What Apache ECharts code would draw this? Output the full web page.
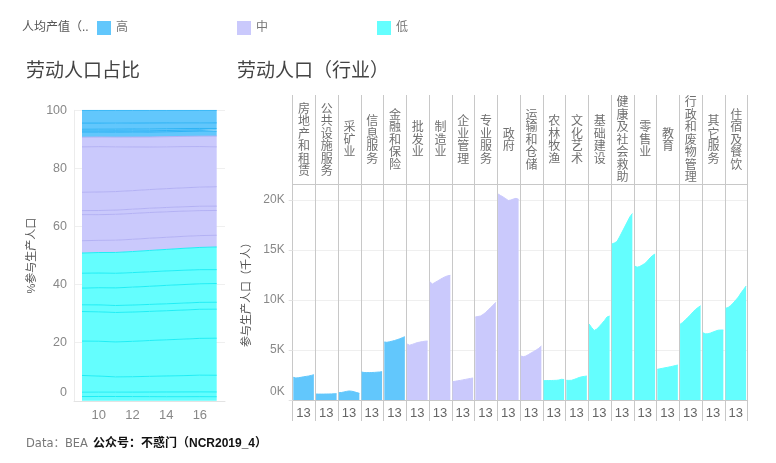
<!DOCTYPE html>
<html><head><meta charset="utf-8">
<script src="https://cdn.jsdelivr.net/npm/echarts@6/dist/echarts.min.js"></script>
<style>html,body{margin:0;padding:0;background:#fff}#c{width:776px;height:463px}</style>
</head><body><div id="c"></div>
<script>
// ---------- data (thousands of people) ----------
const years = ['2009','2010','2011','2012','2013','2014','2015','2016','2017'];
const groupNames = ['高','中','低'];
// right-panel order
const industries = ['房地产和租赁','公共设施服务','采矿业','信息服务','金融和保险',
  '批发业','制造业','企业管理','专业服务','政府','运输和仓储',
  '农林牧渔','文化艺术','基础建设','健康及社会救助','零售业','教育','行政和废物管理','其它服务','住宿及餐饮'];
const industryGroup = ['高','高','高','高','高','中','中','中','中','中','中','低','低','低','低','低','低','低','低','低'];

const realEstate     = [2270,2200,2230,2270,2320,2360,2400,2460,2530];
const utilities      = [600,590,590,590,600,600,610,620,630];
const mining         = [730,750,800,860,900,880,820,740,670];
const information    = [2800,2750,2740,2740,2750,2760,2780,2800,2830];
const finance        = [5800,5770,5820,5880,5950,6030,6120,6230,6330];
const wholesale      = [5600,5480,5560,5650,5740,5790,5840,5880,5900];
const manufacturing  = [11830,11600,11750,11900,12050,12200,12330,12420,12470];
const management     = [1830,1870,1920,1960,2010,2060,2110,2160,2200];
const professional   = [8300,8350,8400,8550,8750,9000,9250,9500,9770];
const government     = [20600,20450,20300,20130,19950,20000,20100,20170,20070];
const transportation = [4400,4330,4400,4550,4700,4850,5000,5170,5400];
const agriculture    = [1930,1940,1950,1950,1960,1970,2000,2070,2050];
const arts           = [1970,1960,1970,2050,2150,2250,2320,2360,2400];
const construction   = [7600,7250,6950,7100,7350,7650,7950,8300,8400];
const health         = [15600,15700,15850,16300,16800,17300,17800,18300,18650];
const retail         = [13400,13280,13350,13500,13650,13900,14200,14450,14600];
const education      = [3070,3120,3170,3220,3270,3320,3380,3440,3500];
const admin          = [7570,7750,8000,8250,8500,8800,9050,9250,9430];
const otherServices  = [6730,6620,6620,6700,6800,6900,6980,7000,7000];
const accommodation  = [9170,9250,9450,9700,10000,10300,10700,11050,11400];

const industryValues = [realEstate,utilities,mining,information,finance,
  wholesale,manufacturing,management,professional,government,transportation,
  agriculture,arts,construction,health,retail,education,admin,otherServices,accommodation];

// ---------- styles ----------
const fillColor = {'高':'#62c7fc','中':'#cac9fc','低':'#64fefe'};
const lineColor = {'高':'#2eb3f5','中':'#b3b1f4','低':'#1eeef5'};
const FONT = "'Liberation Sans','Noto Sans CJK SC',sans-serif";

// ---------- layout ----------
const RL = 292.7, RR = 747.7, RW = RR - RL, PW = RW / industries.length;
const HEAD_TOP = 95, HEAD_BOTTOM = 184, PLOT_BOTTOM = 400, LINE_BOTTOM = 421;
const YMAX = 21600;
const L_TOP = 110.3, L_BOTTOM = 400.8;

const grids = [], xAxes = [], yAxes = [], series = [];

// ---- left chart: background grid (gridlines, y labels) ----
grids.push({left:74, top:L_TOP, width:151, height:L_BOTTOM - L_TOP});
xAxes.push({gridIndex:0, type:'value', min:0, max:1,
  axisLine:{show:true, lineStyle:{color:'#e3e3e3'}}, axisTick:{show:false}, axisLabel:{show:false}, splitLine:{show:false}});
yAxes.push({gridIndex:0, type:'value', min:0, max:100, interval:20,
  name:'%参与生产人口', nameLocation:'middle', nameGap:37, nameRotate:90,
  nameTextStyle:{color:'#555', fontSize:11},
  axisLine:{show:true, lineStyle:{color:'#ececec'}}, axisTick:{show:false},
  splitLine:{lineStyle:{color:'#efefef'}},
  axisLabel:{color:'#888', fontSize:12.5, margin:7,
    formatter:v => v===0 ? '{z|0}' : String(v),
    rich:{z:{color:'#888', fontSize:12.5, padding:[0,0,16,0]}}}});

// ---- left chart: data grid (percent stack) ----
grids.push({left:82, top:L_TOP, width:134.7, height:L_BOTTOM - L_TOP});
xAxes.push({gridIndex:1, type:'category', data:years, boundaryGap:false,
  axisLine:{show:false}, axisTick:{show:false}, splitLine:{show:false},
  axisLabel:{interval:(idx) => idx % 2 === 1, color:'#888', fontSize:13, margin:8, formatter:v => v.slice(2)}});
yAxes.push({gridIndex:1, type:'value', min:0, max:100, show:false, splitLine:{show:false}});

const totals = years.map((_, y) => industryValues.reduce((s, arr) => s + arr[y], 0));
// stack order bottom-up: 低, 中, 高 (each in panel order)
const stackOrder = [];
['低','中','高'].forEach(g => industries.forEach((n, i) => { if (industryGroup[i] === g) stackOrder.push(i); }));
stackOrder.forEach(i => {
  const g = industryGroup[i];
  series.push({type:'line', name:g, xAxisIndex:1, yAxisIndex:1, stack:'pct', symbol:'none',
    data: years.map((yr, y) => industryValues[i][y] / totals[y] * 100),
    lineStyle:{color:lineColor[g], width:1}, itemStyle:{color:fillColor[g]},
    areaStyle:{color:fillColor[g], opacity:1}});
});

// ---- right: column grid (vertical separators) ----
grids.push({left:RL, top:HEAD_TOP, width:RW, height:LINE_BOTTOM - HEAD_TOP});
xAxes.push({gridIndex:2, type:'category', data:industries, position:'top', boundaryGap:true,
  axisLine:{show:false}, axisTick:{show:false}, axisLabel:{show:false},
  splitLine:{show:true, interval:0, lineStyle:{color:'#c8c8c8', width:1}}});
yAxes.push({gridIndex:2, type:'value', min:0, max:1, show:false});

// ---- right: background value grid ----
grids.push({left:RL, top:HEAD_BOTTOM, width:RW, height:PLOT_BOTTOM - HEAD_BOTTOM});
xAxes.push({gridIndex:3, type:'value', min:0, max:1, position:'bottom',
  axisLine:{show:true, lineStyle:{color:'#c8c8c8'}}, axisTick:{show:false}, axisLabel:{show:false}, splitLine:{show:false}});
xAxes.push({gridIndex:3, type:'value', min:0, max:1, position:'top',
  axisLine:{show:true, lineStyle:{color:'#c8c8c8'}}, axisTick:{show:false}, axisLabel:{show:false}, splitLine:{show:false}});
yAxes.push({gridIndex:3, type:'value', min:0, max:YMAX, interval:5000,
  name:'参与生产人口（千人）', nameLocation:'middle', nameGap:38, nameRotate:90,
  nameTextStyle:{color:'#555', fontSize:11},
  axisLine:{show:false}, axisTick:{show:true, length:4, lineStyle:{color:'#e2e2e2'}},
  splitLine:{lineStyle:{color:'#efefef'}},
  axisLabel:{showMaxLabel:false, color:'#888', fontSize:12, margin:8,
    formatter:v => v===0 ? '{z|0K}' : (v/1000)+'K',
    rich:{z:{color:'#888', fontSize:12, padding:[0,0,16,0]}}}});

// ---- right: one grid per industry panel ----
industries.forEach((name, i) => {
  const gi = grids.length;
  grids.push({left:RL + i*PW + 0.6, top:HEAD_BOTTOM, width:PW - 2.2, height:PLOT_BOTTOM - HEAD_BOTTOM});
  const xi = xAxes.length, yi = yAxes.length;
  xAxes.push({gridIndex:gi, type:'category', data:years, boundaryGap:false,
    axisLine:{show:false}, axisTick:{show:false}, splitLine:{show:false},
    axisLabel:{interval:(idx) => idx === 4, formatter:v => v.slice(2), color:'#666', fontSize:13, margin:7}});
  yAxes.push({gridIndex:gi, type:'value', min:0, max:YMAX, show:false, splitLine:{show:false}});
  const g = industryGroup[i];
  series.push({type:'line', name:g, xAxisIndex:xi, yAxisIndex:yi, symbol:'none',
    data:industryValues[i], lineStyle:{color:fillColor[g], width:1}, itemStyle:{color:fillColor[g]},
    areaStyle:{color:fillColor[g], opacity:1}});
});

// ---- header labels (vertical text) ----
const headerTexts = industries.map((name, i) => ({
  type:'text', x:RL + (i + 0.5) * PW, y:(HEAD_TOP + HEAD_BOTTOM) / 2 + 1,
  style:{text:name.split('').join('\n'), align:'center', verticalAlign:'middle',
    fontSize:12, lineHeight:12.5, fontFamily:FONT, fill:'#707070'}
}));

const chart = echarts.init(document.getElementById('c'));
chart.setOption({
  animation:false,
  textStyle:{fontFamily:FONT},
  title:[
    {text:'人均产值（..', left:22, top:22, padding:0, textStyle:{fontSize:12, fontWeight:'normal', color:'#555'}},
    {text:'劳动人口占比', left:26, top:62, padding:0, textStyle:{fontSize:19, fontWeight:'normal', color:'#444'}},
    {text:'劳动人口（行业）', left:237, top:62, padding:0, textStyle:{fontSize:19, fontWeight:'normal', color:'#444'}},
    {text:'{a|Data：BEA} {b|公众号：不惑门（NCR2019_4）}', left:26, top:435, padding:0,
      textStyle:{fontWeight:'normal',
        rich:{a:{fontSize:11.5, color:'#777', fontWeight:'normal', fontFamily:"'DejaVu Sans','Noto Sans CJK SC',sans-serif"},
              b:{fontSize:12, color:'#111', fontWeight:'bold'}}}}
  ],
  legend:{left:97, top:21, padding:0, itemWidth:14, itemHeight:14, itemGap:109, icon:'rect',
    textStyle:{color:'#777', fontSize:12},
    data:groupNames.map(g => ({name:g, itemStyle:{color:fillColor[g]}}))},
  graphic:headerTexts,
  grid:grids, xAxis:xAxes, yAxis:yAxes, series:series
});
</script></body></html>
